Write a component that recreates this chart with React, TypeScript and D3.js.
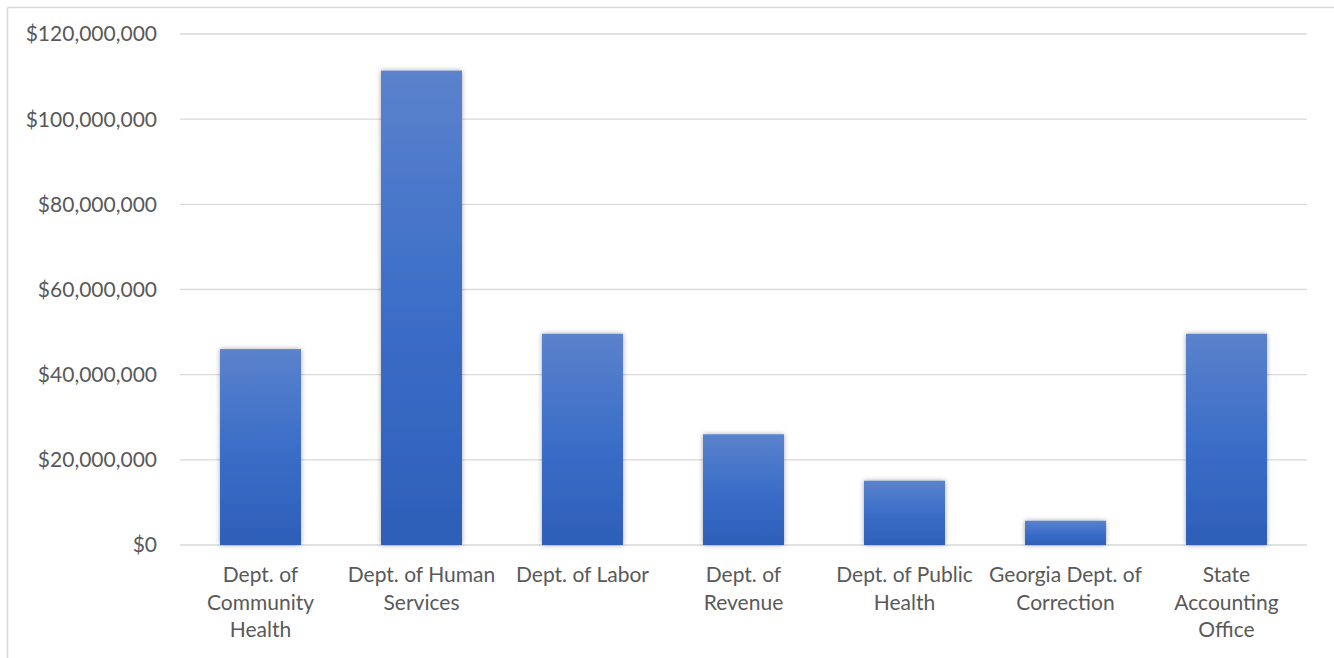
import React from "react";
import * as d3 from "d3";

const categories: string[][] = [
  ["Dept. of", "Community", "Health"],
  ["Dept. of Human", "Services"],
  ["Dept. of Labor"],
  ["Dept. of", "Revenue"],
  ["Dept. of Public", "Health"],
  ["Georgia Dept. of", "Correction"],
  ["State", "Accounting", "Office"],
];
const amounts: number[] = [46000000, 111400000, 49600000, 26000000, 15100000, 5700000, 49600000];
const yTicks: number[] = [0, 20000000, 40000000, 60000000, 80000000, 100000000, 120000000];

const W = 1334;
const H = 658;
const plot = { left: 180, right: 1307, top: 34, bottom: 545 };
const FONT = "Lato, 'Open Sans', sans-serif";
const TEXT = "#595959";

export default function App() {
  const keys = categories.map((c) => c.join(" "));
  const x = d3.scaleBand<string>().domain(keys).range([plot.left, plot.right]).paddingInner(0.497).paddingOuter(0.2485);
  const y = d3.scaleLinear().domain([0, 120000000]).range([plot.bottom, plot.top]);
  const fmt = (v: number) => "$" + d3.format(",")(v);

  return (
    <svg width={W} height={H} style={{ position: "absolute", left: 0, top: 0, background: "#fff" }}>
      <defs>
        <linearGradient id="barFill" x1="0" y1="0" x2="0" y2="1">
          <stop offset="0%" stopColor="#5b82cc" />
          <stop offset="50%" stopColor="#3b6ec8" />
          <stop offset="100%" stopColor="#2d5fb9" />
        </linearGradient>
        <filter id="barShadow" x="-20%" y="-20%" width="140%" height="140%">
          <feDropShadow dx="0" dy="0" stdDeviation="2.5" floodColor="#000" floodOpacity="0.35" />
        </filter>
      </defs>
      {/* outer frame: only the top and left edges fall within the page */}
      <line x1={7.5} x2={W} y1={7.5} y2={7.5} stroke="#d9d9d9" strokeWidth={1.5} />
      <line x1={7.5} x2={7.5} y1={7.5} y2={H} stroke="#d9d9d9" strokeWidth={1.5} />
      {yTicks.map((t) => (
        <g key={t}>
          <line x1={plot.left} x2={plot.right} y1={y(t)} y2={y(t)} stroke="#d9d9d9" strokeWidth={1.3} />
          <text x={157} y={y(t)} dy="0.35em" textAnchor="end" fontFamily={FONT} fontSize={21} fill={TEXT}>
            {fmt(t)}
          </text>
        </g>
      ))}
      {amounts.map((v, i) => (
        <rect
          key={keys[i]}
          x={x(keys[i])}
          y={y(v)}
          width={x.bandwidth()}
          height={y(0) - y(v)}
          fill="url(#barFill)"
          filter="url(#barShadow)"
        />
      ))}
      {categories.map((lines, i) => (
        <text key={keys[i]} textAnchor="middle" fontFamily={FONT} fontSize={21} fill={TEXT}>
          {lines.map((l, j) => (
            <tspan key={j} x={(x(keys[i]) as number) + x.bandwidth() / 2} y={582 + j * 27.5}>
              {l}
            </tspan>
          ))}
        </text>
      ))}
    </svg>
  );
}
